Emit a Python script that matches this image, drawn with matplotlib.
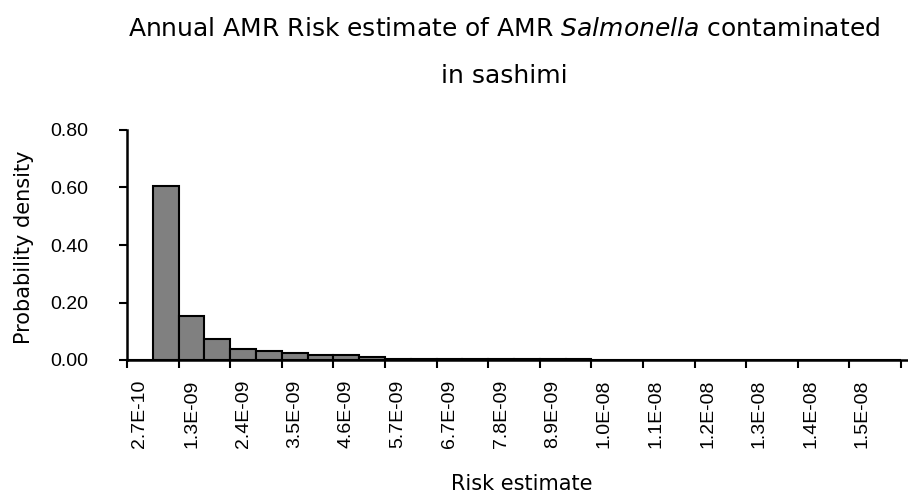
import matplotlib
matplotlib.use("Agg")
import matplotlib.pyplot as plt
import numpy as np

# histogram of annual risk (30 bins, every other bin labelled)
density = [0.0, 0.606, 0.152, 0.072, 0.038, 0.031, 0.023, 0.016, 0.016, 0.010,
           0.004, 0.003, 0.003, 0.002, 0.002, 0.002, 0.002, 0.002, 0.001, 0.001,
           0.0, 0.0, 0.001, 0.0, 0.0, 0.0, 0.001, 0.001, 0.001, 0.001]
tick_labels = ["2.7E-10", "1.3E-09", "2.4E-09", "3.5E-09", "4.6E-09", "5.7E-09",
               "6.7E-09", "7.8E-09", "8.9E-09", "1.0E-08", "1.1E-08", "1.2E-08",
               "1.3E-08", "1.4E-08", "1.5E-08"]
y_ticks = [0.0, 0.2, 0.4, 0.6, 0.8]

plt.rcParams['mathtext.fontset'] = 'custom'
plt.rcParams['mathtext.rm'] = 'DejaVu Sans'
plt.rcParams['mathtext.it'] = 'DejaVu Sans:italic'

fig = plt.figure(figsize=(9.08, 4.94), dpi=100)
ax = fig.add_axes([127 / 908, 134 / 494, 781 / 908, 230 / 494])

x = np.arange(len(density))
ax.bar(x, density, width=1.0, color="#808080", edgecolor="black", linewidth=1.5, zorder=2)

ax.set_xlim(-0.5, 29.77)
ax.set_ylim(0, 0.8)

ax.set_xticks(x[::2])
ax.set_xticklabels(tick_labels, rotation=90, family="Liberation Sans", fontsize=14)
ax.set_xticks(np.arange(-0.5, 30, 2), minor=True)
ax.tick_params(axis="x", which="major", length=0, pad=14)
ax.tick_params(axis="x", which="minor", length=6, width=1.5, direction="out")

ax.set_yticks(y_ticks)
ax.set_yticklabels(["%.2f" % v for v in y_ticks], family="Liberation Sans", fontsize=14)
ax.tick_params(axis="y", length=6, width=1.5, direction="out", pad=22)

for s in ["top", "right"]:
    ax.spines[s].set_visible(False)
for s in ["left", "bottom"]:
    ax.spines[s].set_linewidth(1.8)

fig.text(24 / 908, 1 - 247 / 494, "Probability density", rotation=90,
         ha="center", va="center", family="DejaVu Sans", fontsize=15)
fig.text(522 / 908, 1 - 484 / 494, "Risk estimate",
         ha="center", va="center", family="DejaVu Sans", fontsize=15)

fig.text(504 / 908, 1 - 36 / 494,
         r"Annual AMR Risk estimate of AMR $\it{Salmonella}$ contaminated",
         ha="center", va="baseline", family="DejaVu Sans", fontsize=18)
fig.text(504 / 908, 1 - 83 / 494, "in sashimi",
         ha="center", va="baseline", family="DejaVu Sans", fontsize=18)

fig.savefig("out.png", dpi=100)
